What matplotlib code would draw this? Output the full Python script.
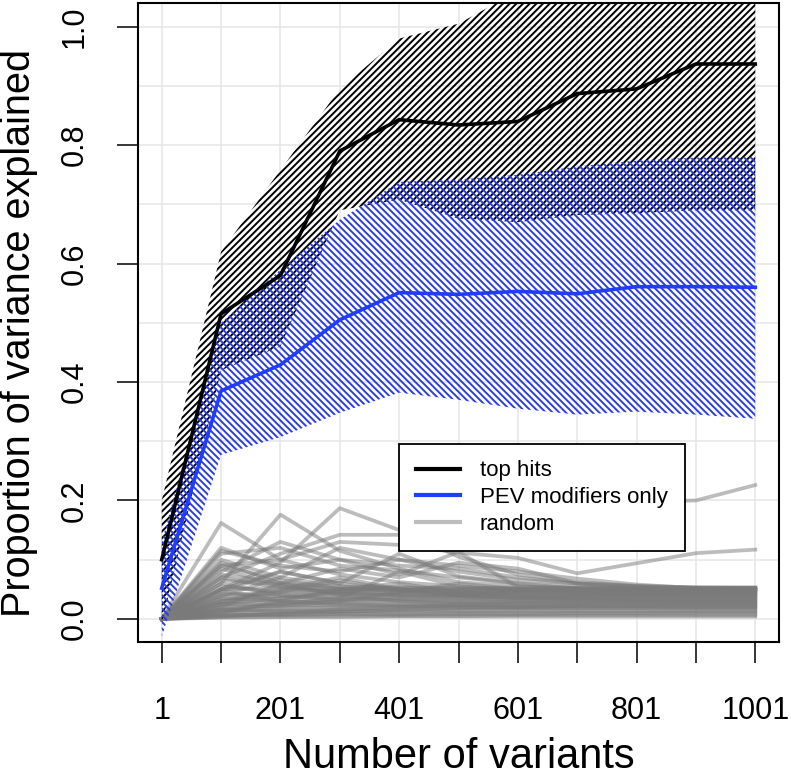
import matplotlib
matplotlib.use("Agg")
import matplotlib.pyplot as plt
from matplotlib.lines import Line2D
import numpy as np

plt.rcParams["font.family"] = ["Liberation Sans", "DejaVu Sans"]
plt.rcParams["hatch.linewidth"] = 1.4

# number of variants used in the model
n_variants = [1, 101, 201, 301, 401, 501, 601, 701, 801, 901, 1001]
x_labels = ["1", "", "201", "", "401", "", "601", "", "801", "", "1001"]

# top hits: mean and band
top_hits = [0.10, 0.515, 0.58, 0.79, 0.843, 0.834, 0.840, 0.887, 0.895, 0.937, 0.937]
top_lo = [-0.01, 0.42, 0.46, 0.69, 0.708, 0.676, 0.670, 0.682, 0.685, 0.690, 0.690]
top_hi = [0.20, 0.62, 0.758, 0.895, 0.98, 1.005, 1.06, 1.10, 1.12, 1.14, 1.15]

# PEV modifiers only: mean and band
pev = [0.052, 0.385, 0.429, 0.505, 0.551, 0.548, 0.553, 0.549, 0.561, 0.561, 0.560]
pev_lo = [-0.03, 0.277, 0.307, 0.348, 0.382, 0.370, 0.355, 0.345, 0.350, 0.345, 0.338]
pev_hi = [0.13, 0.50, 0.59, 0.674, 0.738, 0.742, 0.750, 0.764, 0.774, 0.779, 0.780]

# random variant sets
random_runs = [
    [0.0, 0.162, 0.100, 0.075, 0.062, 0.055, 0.050, 0.049, 0.048, 0.048, 0.048],
    [0.0, 0.060, 0.176, 0.115, 0.085, 0.062, 0.055, 0.052, 0.050, 0.050, 0.050],
    [0.0, 0.050, 0.095, 0.187, 0.150, 0.105, 0.075, 0.062, 0.056, 0.053, 0.052],
    [0.0, 0.070, 0.110, 0.142, 0.142, 0.160, 0.180, 0.190, 0.197, 0.200, 0.226],
    [0.0, 0.090, 0.100, 0.130, 0.125, 0.112, 0.103, 0.077, 0.094, 0.111, 0.117],
    [0.0, 0.120, 0.085, 0.100, 0.075, 0.113, 0.054, 0.050, 0.048, 0.047, 0.047],
    [0.0, 0.110, 0.120, 0.090, 0.082, 0.070, 0.060, 0.055, 0.051, 0.050, 0.050],
    [0.0, 0.100, 0.070, 0.120, 0.100, 0.080, 0.066, 0.060, 0.055, 0.053, 0.053],
    [0.0, 0.080, 0.130, 0.100, 0.090, 0.085, 0.070, 0.060, 0.055, 0.051, 0.051],
    [0.0, 0.115, 0.090, 0.080, 0.100, 0.090, 0.080, 0.068, 0.058, 0.052, 0.052],
    [0.0, 0.050, 0.080, 0.060, 0.110, 0.072, 0.060, 0.051, 0.048, 0.047, 0.047],
    [0.0, 0.095, 0.060, 0.085, 0.070, 0.095, 0.085, 0.060, 0.052, 0.050, 0.049],
    [0.0, 0.003, 0.004, 0.005, 0.005, 0.005, 0.006, 0.006, 0.006, 0.006, 0.006],
    [0.0, 0.006, 0.008, 0.009, 0.009, 0.010, 0.010, 0.010, 0.010, 0.011, 0.011],
    [0.0, 0.010, 0.012, 0.013, 0.014, 0.014, 0.015, 0.015, 0.015, 0.015, 0.015],
    [0.0, 0.014, 0.018, 0.019, 0.020, 0.020, 0.020, 0.021, 0.021, 0.021, 0.021],
    [0.0, 0.020, 0.022, 0.024, 0.025, 0.025, 0.026, 0.026, 0.026, 0.026, 0.026],
    [0.0, 0.024, 0.028, 0.030, 0.031, 0.031, 0.032, 0.032, 0.032, 0.032, 0.032],
    [0.0, 0.030, 0.034, 0.036, 0.037, 0.037, 0.038, 0.038, 0.038, 0.038, 0.038],
    [0.0, 0.034, 0.040, 0.042, 0.043, 0.043, 0.044, 0.044, 0.044, 0.044, 0.044],
    [0.0, 0.040, 0.046, 0.048, 0.049, 0.049, 0.050, 0.050, 0.050, 0.050, 0.050],
    [0.0, 0.050, 0.052, 0.051, 0.052, 0.052, 0.053, 0.053, 0.053, 0.053, 0.053],
    [0.0, 0.060, 0.040, 0.032, 0.034, 0.030, 0.028, 0.027, 0.027, 0.026, 0.026],
    [0.0, 0.070, 0.052, 0.045, 0.040, 0.038, 0.036, 0.035, 0.034, 0.034, 0.034],
    [0.0, 0.020, 0.060, 0.040, 0.030, 0.025, 0.022, 0.021, 0.021, 0.020, 0.020],
    [0.0, 0.030, 0.050, 0.070, 0.050, 0.040, 0.035, 0.033, 0.032, 0.031, 0.031],
    [0.0, 0.010, 0.030, 0.050, 0.060, 0.045, 0.040, 0.038, 0.037, 0.037, 0.037],
    [0.0, 0.090, 0.065, 0.050, 0.048, 0.047, 0.047, 0.048, 0.048, 0.048, 0.048],
    [0.0, 0.005, 0.008, 0.012, 0.015, 0.018, 0.020, 0.022, 0.022, 0.023, 0.023],
    [0.0, 0.018, 0.022, 0.030, 0.045, 0.060, 0.050, 0.044, 0.043, 0.043, 0.043],
    [0.0, 0.045, 0.080, 0.060, 0.050, 0.045, 0.042, 0.040, 0.040, 0.039, 0.039],
    [0.0, 0.025, 0.035, 0.045, 0.055, 0.050, 0.048, 0.049, 0.050, 0.050, 0.050],
    [0.0, 0.008, 0.006, 0.008, 0.007, 0.008, 0.008, 0.009, 0.009, 0.009, 0.009],
    [0.0, 0.012, 0.016, 0.017, 0.017, 0.018, 0.018, 0.018, 0.018, 0.018, 0.018],
    [0.0, 0.016, 0.013, 0.012, 0.012, 0.012, 0.013, 0.013, 0.013, 0.013, 0.013],
    [0.0, 0.026, 0.024, 0.023, 0.023, 0.023, 0.023, 0.024, 0.024, 0.024, 0.024],
    [0.0, 0.035, 0.030, 0.029, 0.029, 0.029, 0.029, 0.029, 0.029, 0.029, 0.029],
    [0.0, 0.042, 0.038, 0.036, 0.035, 0.035, 0.035, 0.035, 0.035, 0.035, 0.035],
    [0.0, 0.055, 0.045, 0.042, 0.041, 0.041, 0.041, 0.041, 0.041, 0.041, 0.041],
    [0.0, 0.065, 0.058, 0.050, 0.047, 0.046, 0.046, 0.046, 0.046, 0.046, 0.046],
    [0.0, 0.075, 0.060, 0.055, 0.052, 0.051, 0.051, 0.052, 0.052, 0.052, 0.052],
    [0.0, 0.004, 0.010, 0.016, 0.020, 0.024, 0.027, 0.028, 0.028, 0.028, 0.028],
    [0.0, 0.002, 0.003, 0.003, 0.004, 0.004, 0.004, 0.004, 0.004, 0.004, 0.004],
    [0.0, 0.038, 0.070, 0.055, 0.045, 0.040, 0.039, 0.039, 0.039, 0.039, 0.039],
    [0.0, 0.085, 0.055, 0.044, 0.040, 0.036, 0.033, 0.032, 0.031, 0.031, 0.031],
    [0.0, 0.028, 0.045, 0.065, 0.048, 0.042, 0.046, 0.044, 0.043, 0.042, 0.042],
    [0.0, 0.015, 0.025, 0.035, 0.080, 0.055, 0.048, 0.045, 0.044, 0.044, 0.044],
    [0.0, 0.048, 0.030, 0.025, 0.022, 0.020, 0.019, 0.019, 0.019, 0.019, 0.019],
]

black = "black"
blue = "#1f3cff"
blue_hatch = "#2b3ee0"

fig = plt.figure(figsize=(7.91, 7.77), dpi=100)
ax = fig.add_axes([138 / 791, 135 / 777, 641 / 791, 639 / 777])

for run in random_runs:
    ax.plot(n_variants, run, color="#7a7a7a", alpha=0.5, lw=2.7, zorder=2)

ax.fill_between(n_variants, top_lo, top_hi, facecolor="none", edgecolor=black,
                hatch="/////", lw=0, zorder=3)
ax.fill_between(n_variants, pev_lo, pev_hi, facecolor="none", edgecolor=blue_hatch,
                hatch="\\\\\\\\\\", lw=0, zorder=3)
ax.plot(n_variants, top_hits, color=black, lw=2.6, zorder=4)
ax.plot(n_variants, pev, color=blue, lw=2.6, zorder=4)

ax.set_xlim(-39, 1041)
ax.set_ylim(-0.039, 1.04)
ax.set_xticks(n_variants)
ax.set_xticklabels(x_labels)
ax.set_yticks([0.0, 0.2, 0.4, 0.6, 0.8, 1.0])
ax.set_yticklabels(["0.0", "0.2", "0.4", "0.6", "0.8", "1.0"], rotation=90, va="center")
ax.set_yticks(np.arange(0.1, 1.0, 0.2), minor=True)
ax.tick_params(which="major", direction="out", length=15, width=1.1, labelsize=22)
ax.tick_params(axis="x", which="major", pad=24)
ax.tick_params(axis="y", which="major", pad=20)
ax.tick_params(which="minor", length=0)
ax.grid(True, which="both", color="#e6e6e6", lw=1.1)
ax.set_axisbelow(True)
for sp in ax.spines.values():
    sp.set_linewidth(1.5)

ax.set_xlabel("Number of variants", fontsize=30)
ax.set_ylabel("Proportion of variance explained", fontsize=28.5)
ax.xaxis.set_label_coords(0.5, -0.148)
ax.yaxis.set_label_coords(-0.156, 0.484)

handles = [Line2D([], [], color=black, lw=3),
           Line2D([], [], color=blue, lw=3),
           Line2D([], [], color="#bdbdbd", lw=3)]
leg = ax.legend(handles, ["top hits", "PEV modifiers only", "random"],
                loc="lower left", bbox_to_anchor=(0.407, 0.142), fontsize=16,
                fancybox=False, edgecolor="black", framealpha=1, borderpad=0.75,
                labelspacing=0.25, handlelength=2.0, handletextpad=0.9,
                borderaxespad=0)
leg.get_frame().set_linewidth(1.3)
leg.set_zorder(10)

fig.savefig("out.png", dpi=100)
